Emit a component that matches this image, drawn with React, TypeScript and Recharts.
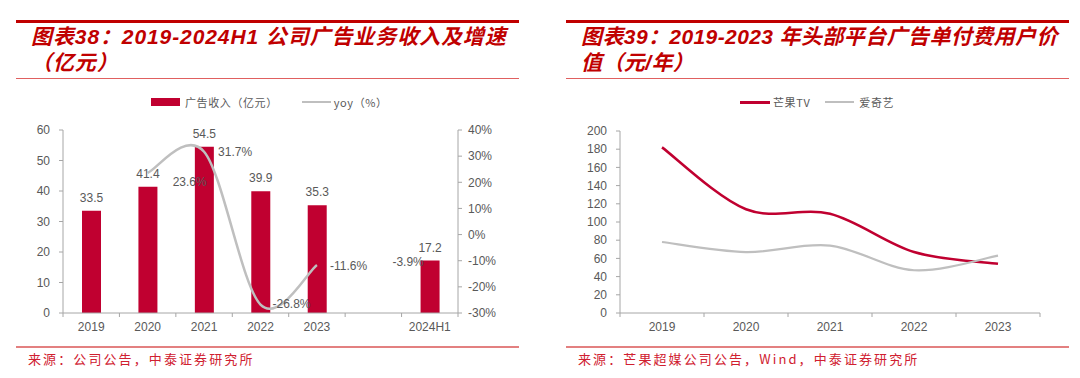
import { ComposedChart, LineChart, Bar, Line, XAxis, YAxis, Legend, LabelList } from 'recharts';

const RED = '#C00030';
const GREY = '#BFBFBF';
const TEXT = '#595959';
const AXIS = '#A6A6A6';
const TITLE_RED = '#C00000';
const LATIN = '"Liberation Sans", Arial, "Noto Sans CJK SC", sans-serif';
const CJK = '"Noto Sans CJK SC", "Liberation Sans", sans-serif';

// 图表38 data
const revYears = ['2019', '2020', '2021', '2022', '2023', '', '2024H1'];
const adRevenue = [33.5, 41.4, 54.5, 39.9, 35.3, null, 17.2];
const adYoy = [null, 23.6, 31.7, -26.8, -11.6, null, -3.9];
const revenueTicks = [0, 10, 20, 30, 40, 50, 60];
const yoyTicks = [-30, -20, -10, 0, 10, 20, 30, 40];

// 图表39 data
const arpuYears = ['2019', '2020', '2021', '2022', '2023'];
const mangoArpu = [182, 114, 109, 67, 54];
const iqiyiArpu = [78, 67, 74, 47, 63];
const arpuTicks = [0, 20, 40, 60, 80, 100, 120, 140, 160, 180, 200];

const revData = revYears.map((year, i) => ({ year, revenue: adRevenue[i], yoy: adYoy[i] }));
const arpuData = arpuYears.map((year, i) => ({ year, mango: mangoArpu[i], iqiyi: iqiyiArpu[i] }));

// where each yoy label sits relative to its point (excel puts them by hand)
const yoyLabelPos = [
  null,
  { dx: 25, dy: 9, anchor: 'start' },
  { dx: 14, dy: 0, anchor: 'start' },
  { dx: 12, dy: -1, anchor: 'start' },
  { dx: 13, dy: 1, anchor: 'start' },
  null,
  { dx: -6, dy: 17, anchor: 'end' },
];

// excel-style smoothed line (catmull-rom as bezier)
const excelSmooth = (ctx: any) => {
  let pts: number[][] = [];
  return {
    areaStart() {},
    areaEnd() {},
    lineStart() {
      pts = [];
    },
    point(x: number, y: number) {
      pts.push([+x, +y]);
    },
    lineEnd() {
      if (!pts.length) return;
      ctx.moveTo(pts[0][0], pts[0][1]);
      for (let i = 0; i < pts.length - 1; i++) {
        const p0 = pts[i - 1] || pts[i];
        const p1 = pts[i];
        const p2 = pts[i + 1];
        const p3 = pts[i + 2] || p2;
        ctx.bezierCurveTo(
          p1[0] + (p2[0] - p0[0]) / 6,
          p1[1] + (p2[1] - p0[1]) / 6,
          p2[0] - (p3[0] - p1[0]) / 6,
          p2[1] - (p3[1] - p1[1]) / 6,
          p2[0],
          p2[1]
        );
      }
    },
  };
};

const TICK_SIZE = 4;
const TICK_MARGIN = 5;

const CategoryTick = (props: any) => {
  const { x, y, payload, index, step, count } = props;
  const axisY = y - TICK_SIZE - TICK_MARGIN;
  return (
    <g>
      <line x1={x - step / 2} x2={x - step / 2} y1={axisY} y2={axisY + TICK_SIZE} stroke={AXIS} />
      {index === count - 1 && (
        <line x1={x + step / 2} x2={x + step / 2} y1={axisY} y2={axisY + TICK_SIZE} stroke={AXIS} />
      )}
      <text x={x} y={y} dy="0.71em" textAnchor="middle" fill={TEXT} fontSize={12} fontFamily={LATIN}>
        {payload.value}
      </text>
    </g>
  );
};

const YoyLabel = (props: any) => {
  const { x, y, value, index } = props;
  const pos = yoyLabelPos[index];
  if (value == null || !pos) return null;
  return (
    <text x={x + pos.dx} y={y + pos.dy} dy="0.35em" textAnchor={pos.anchor} fill={TEXT} fontSize={12} fontFamily={LATIN}>
      {value.toFixed(1)}%
    </text>
  );
};

const RevenueLegend = () => (
  <div style={{ display: 'flex', alignItems: 'center', fontSize: 11, letterSpacing: 0.6, color: TEXT, fontFamily: CJK, whiteSpace: 'nowrap', height: 16 }}>
    <span style={{ width: 29, height: 8, background: RED, marginRight: 5 }} />
    <span>广告收入（亿元）</span>
    <span style={{ width: 29, height: 2, background: GREY, marginLeft: 24, marginRight: 3 }} />
    <span>yoy（%）</span>
  </div>
);

const ArpuLegend = () => (
  <div style={{ display: 'flex', alignItems: 'center', fontSize: 11, letterSpacing: 0.6, color: TEXT, fontFamily: CJK, whiteSpace: 'nowrap', height: 16 }}>
    <span style={{ width: 30, height: 3, background: RED, marginRight: 3 }} />
    <span>芒果TV</span>
    <span style={{ width: 29, height: 2, background: GREY, marginLeft: 15, marginRight: 5 }} />
    <span>爱奇艺</span>
  </div>
);

const Panel = ({ left, title, source, spacing }: { left: number; title: React.ReactNode; source: string; spacing: number }) => (
  <>
    <div style={{ position: 'absolute', left, top: 19.5, width: 503, height: 3, background: TITLE_RED }} />
    <div
      style={{
        position: 'absolute',
        left: left + 15,
        top: 24,
        fontFamily: LATIN,
        fontWeight: 'bold',
        fontStyle: 'italic',
        fontSize: 21,
        lineHeight: '26px',
        letterSpacing: spacing,
        color: TITLE_RED,
        whiteSpace: 'nowrap',
      }}
    >
      {title}
    </div>
    <div style={{ position: 'absolute', left, top: 77.5, width: 503, height: 1.5, background: '#E06060' }} />
    <div style={{ position: 'absolute', left, top: 346, width: 503, height: 2, background: '#E38080' }} />
    <div
      style={{
        position: 'absolute',
        left: left + 12,
        top: 350,
        fontFamily: CJK,
        fontSize: 13,
        lineHeight: '18px',
        letterSpacing: 2.1,
        color: '#D02030',
        whiteSpace: 'nowrap',
      }}
    >
      {source}
    </div>
  </>
);

export default function App() {
  const revStep = (520 - 13 - 12 - 50 - 50) / revYears.length;
  const arpuStep = (520 - 30 - 20 - 50) / arpuYears.length;

  return (
    <div style={{ position: 'absolute', left: 0, top: 0, width: 1080, height: 378, background: '#fff', overflow: 'hidden' }}>
      <Panel
        left={16}
        spacing={0.9}
        title={
          <>
            图表38：2019-2024H1 公司广告业务收入及增速
            <br />
            （亿元）
          </>
        }
        source="来源：公司公告，中泰证券研究所"
      />
      <Panel
        left={566}
        spacing={0.4}
        title={
          <>
            图表39：2019-2023 年头部平台广告单付费用户价
            <br />
            值（元/年）
          </>
        }
        source="来源：芒果超媒公司公告，Wind，中泰证券研究所"
      />

      <div style={{ position: 'absolute', left: 0, top: 85 }}>
        <ComposedChart width={520} height={255} data={revData} margin={{ top: 45, right: 12, bottom: 5, left: 13 }}>
          <Legend
            layout="vertical"
            verticalAlign="middle"
            align="center"
            wrapperStyle={{ top: 9, left: 151, width: 'auto' }}
            content={() => <RevenueLegend />}
          />
          <XAxis
            dataKey="year"
            height={22}
            interval={0}
            stroke={AXIS}
            tickLine={false}
            tickSize={TICK_SIZE}
            tickMargin={TICK_MARGIN}
            tick={(p: any) => <CategoryTick {...p} step={revStep} count={revYears.length} />}
          />
          <YAxis
            yAxisId="rev"
            width={50}
            domain={[0, 60]}
            ticks={revenueTicks}
            interval={0}
            stroke={AXIS}
            tickSize={TICK_SIZE}
            tickMargin={9}
            tick={{ fill: TEXT, fontSize: 12, fontFamily: LATIN }}
          />
          <YAxis
            yAxisId="yoy"
            orientation="right"
            width={50}
            domain={[-30, 40]}
            ticks={yoyTicks}
            interval={0}
            stroke={AXIS}
            tickSize={TICK_SIZE}
            tickMargin={6}
            tickFormatter={(v: number) => `${v}%`}
            tick={{ fill: TEXT, fontSize: 12, fontFamily: LATIN }}
          />
          <Bar yAxisId="rev" dataKey="revenue" fill={RED} barSize={19} isAnimationActive={false}>
            <LabelList dataKey="revenue" position="top" offset={9} fill={TEXT} fontSize={12} fontFamily={LATIN} />
          </Bar>
          <Line
            yAxisId="yoy"
            dataKey="yoy"
            type={excelSmooth as any}
            stroke={GREY}
            strokeWidth={2.5}
            dot={false}
            activeDot={false}
            isAnimationActive={false}
          >
            <LabelList dataKey="yoy" content={(p: any) => <YoyLabel {...p} />} />
          </Line>
        </ComposedChart>
      </div>

      <div style={{ position: 'absolute', left: 540, top: 85 }}>
        <LineChart width={520} height={255} data={arpuData} margin={{ top: 46, right: 20, bottom: 5, left: 30 }}>
          <Legend
            layout="vertical"
            verticalAlign="middle"
            align="center"
            wrapperStyle={{ top: 9, left: 200, width: 'auto' }}
            content={() => <ArpuLegend />}
          />
          <XAxis
            dataKey="year"
            height={22}
            interval={0}
            padding={{ left: arpuStep / 2, right: arpuStep / 2 }}
            stroke={AXIS}
            tickLine={false}
            tickSize={TICK_SIZE}
            tickMargin={TICK_MARGIN}
            tick={(p: any) => <CategoryTick {...p} step={arpuStep} count={arpuYears.length} />}
          />
          <YAxis
            width={50}
            domain={[0, 200]}
            ticks={arpuTicks}
            interval={0}
            stroke={AXIS}
            tickSize={TICK_SIZE}
            tickMargin={9}
            tick={{ fill: TEXT, fontSize: 12, fontFamily: LATIN }}
          />
          <Line
            dataKey="mango"
            type={excelSmooth as any}
            stroke={RED}
            strokeWidth={2.5}
            dot={false}
            activeDot={false}
            isAnimationActive={false}
          />
          <Line
            dataKey="iqiyi"
            type={excelSmooth as any}
            stroke={GREY}
            strokeWidth={2.2}
            dot={false}
            activeDot={false}
            isAnimationActive={false}
          />
        </LineChart>
      </div>
    </div>
  );
}
